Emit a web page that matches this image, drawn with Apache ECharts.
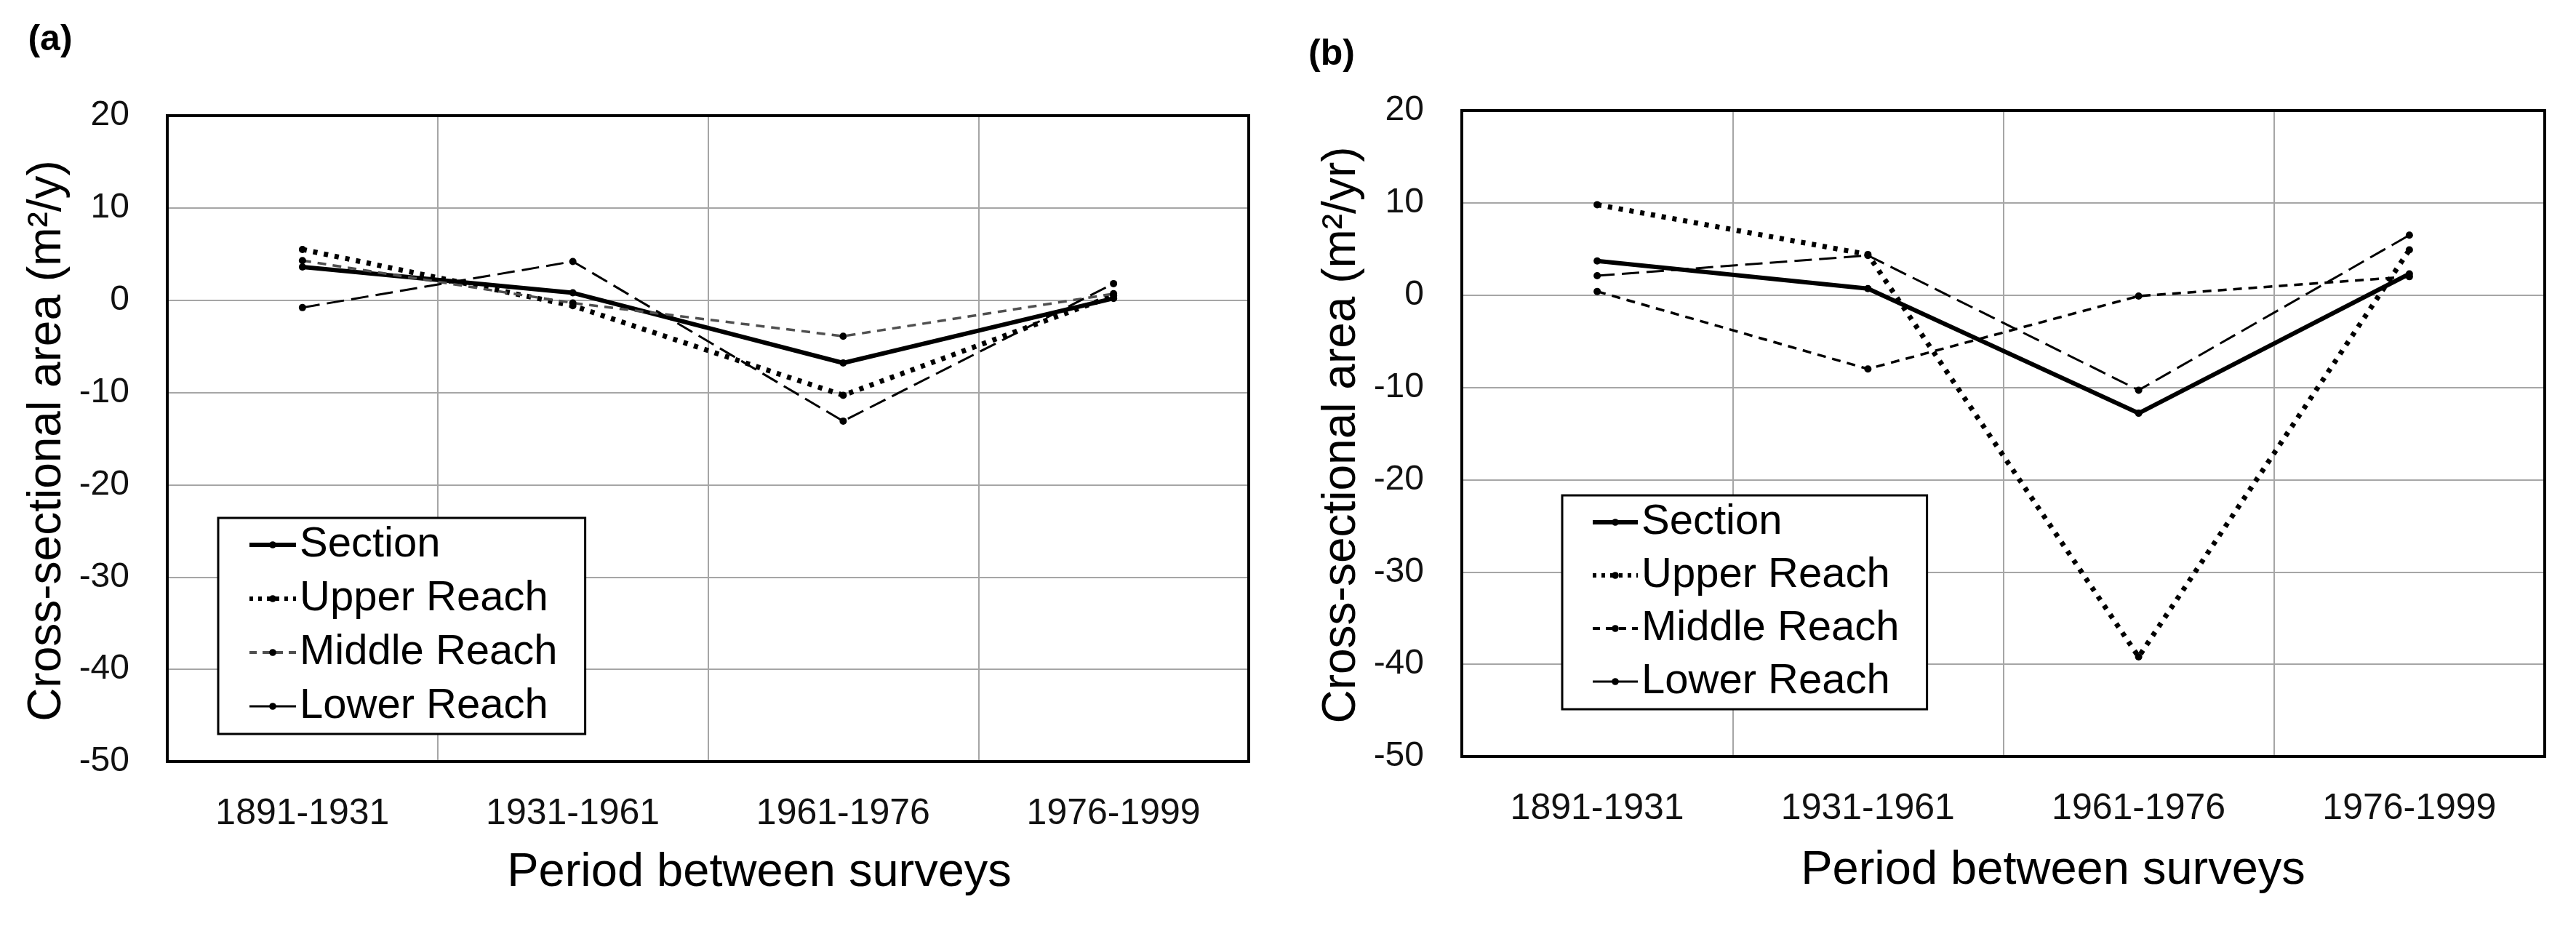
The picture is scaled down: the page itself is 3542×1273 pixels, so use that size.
<!DOCTYPE html>
<html>
<head>
<meta charset="utf-8">
<script src="https://cdn.jsdelivr.net/npm/echarts@6/dist/echarts.min.js"></script>
<style>
html,body{margin:0;padding:0;background:#fff;}
#chart{width:3542px;height:1273px;}
</style>
</head>
<body>
<div id="chart"></div>
<script>
// ---- data ----
const categories = ['1891-1931', '1931-1961', '1961-1976', '1976-1999'];
const seriesNames = ['Section', 'Upper Reach', 'Middle Reach', 'Lower Reach'];
const yTicks = [-50, -40, -30, -20, -10, 0, 10, 20];

// panel (a)  m²/y
const aSection = [3.6, 0.8, -6.8, 0.2];
const aUpper   = [5.5, -0.6, -10.3, 0.5];
const aMiddle  = [4.3, -0.3, -3.9, 0.7];
const aLower   = [-0.8, 4.2, -13.1, 1.8];

// panel (b)  m²/yr
const bSection = [3.7, 0.7, -12.8, 2.3];
const bUpper   = [9.8, 4.4, -39.2, 4.9];
const bMiddle  = [0.4, -8.0, -0.1, 2.0];
const bLower   = [2.1, 4.3, -10.3, 6.5];

// ---- layout ----
const FONT = 'Liberation Sans';
const GA = {left: 230, top: 159, width: 1487, height: 888};
const GB = {left: 2010, top: 152, width: 1489, height: 888};

const styles = {
  'Section':      {width: 6, type: 'solid'},
  'Upper Reach':  {width: 7, type: [6, 9]},
  'Middle Reach': {width: 3.5, type: [12, 9]},
  'Lower Reach':  {width: 3, type: [24, 10]}
};
const legendStyles = {
  'Section':      {width: 6, type: 'solid'},
  'Upper Reach':  {width: 6, type: [5, 7]},
  'Middle Reach': {width: 4, type: [10, 8]},
  'Lower Reach':  {width: 3, type: 'solid'}
};

function colorOf(name, idx) {
  return (idx === 0 && name === 'Middle Reach') ? '#505050' : '#000';
}

function mkSeries(name, data, idx) {
  return {
    name: name + '|' + (idx === 0 ? 'a' : 'b'),
    type: 'line',
    xAxisIndex: idx, yAxisIndex: idx,
    data: data,
    symbol: 'circle', symbolSize: 10,
    showSymbol: true,
    lineStyle: {color: colorOf(name, idx), width: styles[name].width, type: styles[name].type},
    itemStyle: {color: '#000'},
    emphasis: {disabled: true},
    z: 3
  };
}

function mkX(idx) {
  return {
    gridIndex: idx, type: 'category', data: categories, boundaryGap: true,
    axisLine: {show: false}, axisTick: {show: false},
    axisLabel: {fontSize: 50, color: '#111', margin: 47, interval: 0, fontFamily: FONT},
    splitLine: {show: true, interval: 0, lineStyle: {color: '#a6a6a6', width: 2}}
  };
}
function mkY(idx) {
  return {
    gridIndex: idx, type: 'value', min: yTicks[0], max: yTicks[yTicks.length - 1], interval: 10,
    axisLine: {show: false}, axisTick: {show: false},
    axisLabel: {fontSize: 48, color: '#111', margin: 52, fontFamily: FONT},
    splitLine: {show: true, lineStyle: {color: '#a6a6a6', width: 2}}
  };
}
function mkLegend(idx, box) {
  return {
    data: seriesNames.map(n => ({
      name: n + '|' + (idx === 0 ? 'a' : 'b'),
      lineStyle: {color: colorOf(n, idx), width: legendStyles[n].width, type: legendStyles[n].type},
      itemStyle: {color: '#000'}
    })),
    formatter: n => n.split('|')[0],
    orient: 'vertical',
    left: box.left, top: box.top,
    padding: box.padding,
    itemWidth: box.iw, itemHeight: 12, itemGap: box.gap,
    borderColor: '#000', borderWidth: 3, backgroundColor: '#fff',
    selectedMode: false,
    textStyle: {fontSize: 58, lineHeight: 64, color: '#000', fontFamily: FONT},
    z: 20
  };
}

const chart = echarts.init(document.getElementById('chart'), null, {renderer: 'canvas'});
const option = {
  animation: false,
  backgroundColor: '#fff',
  textStyle: {fontFamily: FONT},
  grid: [
    Object.assign({containLabel: false}, GA),
    Object.assign({containLabel: false}, GB)
  ],
  xAxis: [mkX(0), mkX(1)],
  yAxis: [mkY(0), mkY(1)],
  legend: [
    mkLegend(0, {left: 300, top: 712, padding: [5, 38, 6, 40], iw: 64, gap: 10}),
    mkLegend(1, {left: 2148, top: 681, padding: [5, 38, 6, 39], iw: 62, gap: 9})
  ],
  series: [
    mkSeries('Section', aSection, 0),
    mkSeries('Upper Reach', aUpper, 0),
    mkSeries('Middle Reach', aMiddle, 0),
    mkSeries('Lower Reach', aLower, 0),
    mkSeries('Section', bSection, 1),
    mkSeries('Upper Reach', bUpper, 1),
    mkSeries('Middle Reach', bMiddle, 1),
    mkSeries('Lower Reach', bLower, 1)
  ],
  graphic: [
    {type: 'rect', shape: {x: GA.left, y: GA.top, width: GA.width, height: GA.height}, style: {fill: null, stroke: '#000', lineWidth: 4}, z: 10, silent: true},
    {type: 'rect', shape: {x: GB.left, y: GB.top, width: GB.width, height: GB.height}, style: {fill: null, stroke: '#000', lineWidth: 4}, z: 10, silent: true},
    {type: 'text', x: 69, y: 55, style: {text: '(a)', font: 'bold 50px "' + FONT + '"', fill: '#000', align: 'center', verticalAlign: 'middle'}, z: 10},
    {type: 'text', x: 1831, y: 75, style: {text: '(b)', font: 'bold 50px "' + FONT + '"', fill: '#000', align: 'center', verticalAlign: 'middle'}, z: 10},
    {type: 'text', x: 65, y: 606, rotation: Math.PI / 2, style: {text: 'Cross-sectional area (m²/y)', font: '64px "' + FONT + '"', fill: '#000', align: 'center', verticalAlign: 'middle'}, z: 10},
    {type: 'text', x: 1845, y: 598, rotation: Math.PI / 2, style: {text: 'Cross-sectional area (m²/yr)', font: '64px "' + FONT + '"', fill: '#000', align: 'center', verticalAlign: 'middle'}, z: 10},
    {type: 'text', x: 1044, y: 1200, style: {text: 'Period between surveys', font: '65px "' + FONT + '"', fill: '#000', align: 'center', verticalAlign: 'middle'}, z: 10},
    {type: 'text', x: 2823, y: 1197, style: {text: 'Period between surveys', font: '65px "' + FONT + '"', fill: '#000', align: 'center', verticalAlign: 'middle'}, z: 10}
  ]
};
chart.setOption(option);
</script>
</body>
</html>
